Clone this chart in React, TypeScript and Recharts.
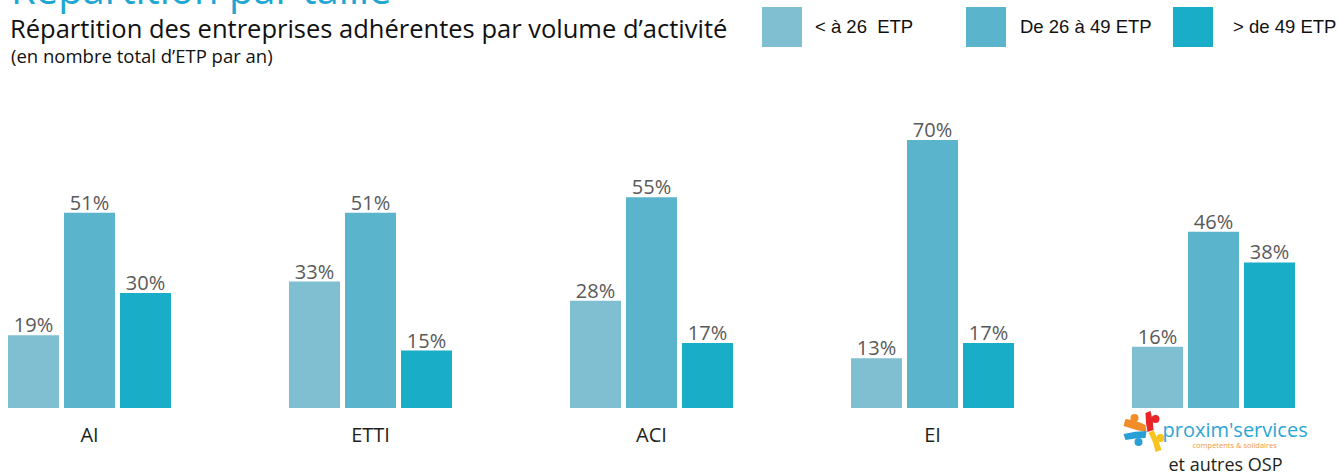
import React from 'react';
import { BarChart, Bar, XAxis, YAxis, LabelList } from 'recharts';

const categories = ['AI', 'ETTI', 'ACI', 'EI', 'et autres OSP'];
const lessThan26 = [19, 33, 28, 13, 16];
const from26to49 = [51, 51, 55, 70, 46];
const over49 = [30, 15, 17, 17, 38];
const seriesNames = ['< à 26  ETP', 'De 26 à 49 ETP', '> de 49 ETP'];
const seriesKeys = ['s1', 's2', 's3'];
const colors = ['#80bfd1', '#5ab4cb', '#1aadc8'];

const data = categories.map((name, i) => ({
  name,
  s1: lessThan26[i],
  s2: from26to49[i],
  s3: over49[i],
}));

const FONT = "'Open Sans', 'Noto Sans', sans-serif";

const Logo = ({ cx, y }: { cx: number; y: number }) => {
  const px = cx - 66;
  const py = y + 23;
  return (
    <g>
      {/* orange figure */}
      <path d={`M${px - 24},${py - 5} Q${px - 13},${py - 1} ${px - 1},${py + 1} L${px - 2},${py - 6} Q${px - 12},${py - 11} ${px - 22},${py - 12} Z`} fill="#f28c28" />
      <circle cx={px - 13} cy={py - 13} r={4} fill="#f28c28" />
      {/* red figure */}
      <path d={`M${px - 2},${py - 18} Q${px - 2},${py - 8} ${px},${py + 1} L${px + 6},${py - 1} Q${px + 6},${py - 10} ${px + 3},${py - 20} Z`} fill="#e8262a" />
      <circle cx={px + 8} cy={py - 12} r={4} fill="#e8262a" />
      {/* blue figure */}
      <path d={`M${px - 24},${py + 3} Q${px - 12},${py} ${px - 1},${py} L${px - 2},${py + 7} Q${px - 12},${py + 7} ${px - 22},${py + 9} Z`} fill="#2a9fd6" />
      <circle cx={px - 9} cy={py + 11} r={4} fill="#2a9fd6" />
      {/* yellow figure */}
      <path d={`M${px + 1},${py + 2} Q${px + 6},${py + 10} ${px + 8},${py + 21} L${px + 14},${py + 19} Q${px + 11},${py + 8} ${px + 6},${py - 1} Z`} fill="#f7c51e" />
      <circle cx={px + 13} cy={py + 7} r={4} fill="#f7c51e" />
      <text x={cx - 51} y={y + 29} fontFamily={FONT} fontSize={20} fill="#2aa6d6">proxim'services</text>
      <text x={cx - 21} y={y + 40} fontFamily={FONT} fontSize={7.5} fill="#f39a3c">compétents &amp; solidaires</text>
    </g>
  );
};

const Tick = (props: any) => {
  const { x, y, payload } = props;
  if (payload.value === 'et autres OSP') {
    return (
      <g>
        <Logo cx={x} y={y} />
        <text x={x + 12} y={y + 63} textAnchor="middle" fontFamily={FONT} fontSize={18} fill="#231f20">
          {payload.value}
        </text>
      </g>
    );
  }
  return (
    <text x={x} y={y + 34} textAnchor="middle" fontFamily={FONT} fontSize={20} fill="#231f20">
      {payload.value}
    </text>
  );
};

const Header = () => {
  const swatchX = [762, 966, 1173];
  const textX = [815, 1020, 1233];
  return (
    <svg width={1338} height={475} style={{ position: 'absolute', left: 0, top: 0, pointerEvents: 'none' }}>
      <text x={11} y={4} fontFamily={FONT} fontSize={40} fill="#1fa6d2">Répartition par taille</text>
      <text x={10} y={38} fontFamily={FONT} fontSize={25.5} fill="#111">Répartition des entreprises adhérentes par volume d’activité</text>
      <text x={11} y={63} fontFamily={FONT} fontSize={18.5} fill="#111">(en nombre total d’ETP par an)</text>
      {seriesNames.map((n, i) => (
        <g key={n}>
          <rect x={swatchX[i]} y={7} width={40} height={40} fill={colors[i]} />
          <text x={textX[i]} y={33} fontFamily="'Liberation Sans', Arial, sans-serif" fontSize={18.5} fill="#111" style={{ whiteSpace: 'pre' }}>
            {n}
          </text>
        </g>
      ))}
    </svg>
  );
};

export default function App() {
  return (
    <div style={{ position: 'absolute', left: 0, top: 0, width: 1338, height: 475, overflow: 'hidden', background: '#fff' }}>
      <div style={{ position: 'absolute', left: -51, top: 0 }}>
        <BarChart
          width={1405}
          height={475}
          data={data}
          margin={{ top: 25, right: 0, bottom: 0, left: 0 }}
          barSize={51}
          barGap={5}
        >
          <XAxis
            dataKey="name"
            height={67}
            axisLine={false}
            tickLine={false}
            tickSize={0}
            tickMargin={0}
            interval={0}
            tick={<Tick />}
          />
          <YAxis hide domain={[0, 100]} />
          {seriesKeys.map((k, i) => (
            <Bar key={k} dataKey={k} name={seriesNames[i]} fill={colors[i]} isAnimationActive={false}>
              <LabelList
                dataKey={k}
                position="top"
                offset={3}
                formatter={(v: any) => `${v}%`}
                fill="#595959"
                fontSize={20}
                fontFamily={FONT}
              />
            </Bar>
          ))}
        </BarChart>
      </div>
      <Header />
    </div>
  );
}
